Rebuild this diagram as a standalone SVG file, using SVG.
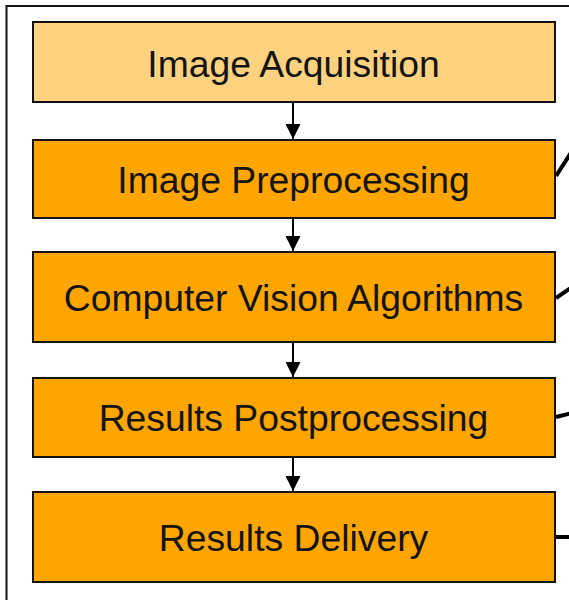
<svg xmlns="http://www.w3.org/2000/svg" width="569" height="600" viewBox="0 0 569 600">
  <style>
    .box { stroke: #111; stroke-width: 2; }
    .light { fill: #FFD280; }
    .dark { fill: #FFA500; }
    .label { font-family: "Liberation Sans", Arial, sans-serif; font-size: 37.3px; fill: #141414; text-anchor: middle; }
    .flow { stroke: #000; stroke-width: 2; fill: none; marker-end: url(#head); }
    .link { stroke: #000; stroke-width: 4; fill: none; }
  </style>
  <defs>
    <marker id="head" viewBox="0 0 15 15" refX="15" refY="7.5" markerWidth="15" markerHeight="15" markerUnits="userSpaceOnUse" orient="auto">
      <path d="M0,0 L15,7.5 L0,15 Z" fill="#000"/>
    </marker>
  </defs>
  <rect width="569" height="600" fill="#fff"/>

  <!-- outer frame -->
  <path d="M6.5,600 V6 H569" fill="none" stroke="#111" stroke-width="2"/>

  <g id="image-acquisition">
    <rect class="box light" x="33" y="22" width="522" height="80"/>
    <text class="label" x="293.5" y="77">Image Acquisition</text>
  </g>
  <g id="image-preprocessing">
    <rect class="box dark" x="33" y="140" width="522" height="78"/>
    <text class="label" x="293.5" y="193">Image Preprocessing</text>
  </g>
  <g id="computer-vision-algorithms">
    <rect class="box dark" x="33" y="252" width="522" height="90"/>
    <text class="label" x="293.5" y="311">Computer Vision Algorithms</text>
  </g>
  <g id="results-postprocessing">
    <rect class="box dark" x="33" y="378" width="522" height="79"/>
    <text class="label" x="293.5" y="431">Results Postprocessing</text>
  </g>
  <g id="results-delivery">
    <rect class="box dark" x="33" y="492" width="522" height="90"/>
    <text class="label" x="293.5" y="551">Results Delivery</text>
  </g>

  <g id="connectors">
    <line class="flow" x1="293" y1="103" x2="293" y2="139"/>
    <line class="flow" x1="293" y1="219" x2="293" y2="251"/>
    <line class="flow" x1="293" y1="343" x2="293" y2="377"/>
    <line class="flow" x1="293" y1="458" x2="293" y2="491"/>
    <line class="link" x1="556" y1="176" x2="572" y2="151"/>
    <line class="link" x1="556" y1="298" x2="572" y2="287"/>
    <line class="link" x1="556" y1="417" x2="572" y2="413"/>
    <line class="link" x1="556" y1="537" x2="572" y2="537"/>
  </g>
</svg>
